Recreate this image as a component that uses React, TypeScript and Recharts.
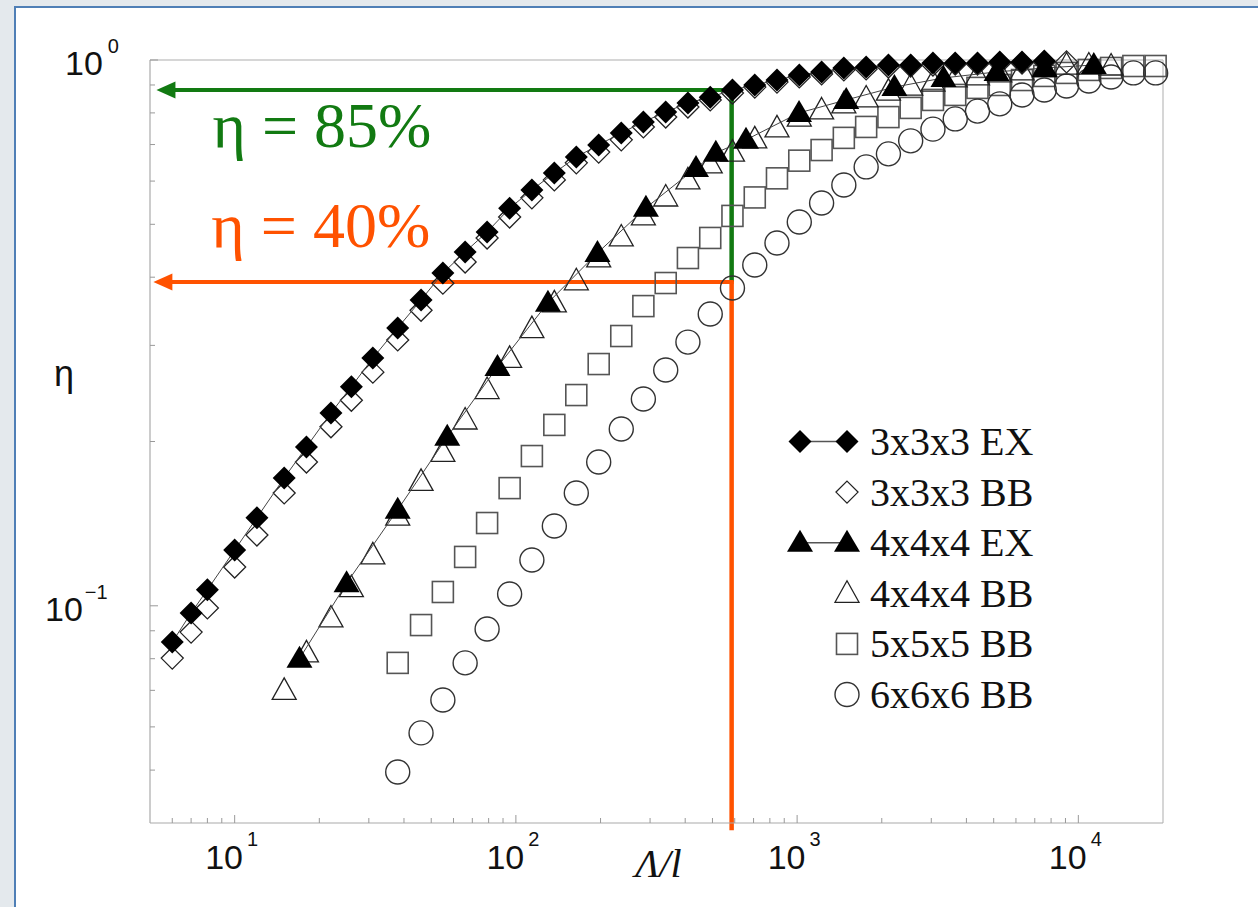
import React from 'react';
import { ScatterChart, Scatter, XAxis, YAxis, ReferenceLine, Legend } from 'recharts';

// ---------- data ----------
const seriesNames = ['3x3x3 EX', '3x3x3 BB', '4x4x4 EX', '4x4x4 BB', '5x5x5 BB', '6x6x6 BB'];

const lambda3EX = [6, 7, 8, 10, 12, 15, 18, 22, 26, 31, 38, 46, 55, 66, 79, 95, 114, 137, 164, 197, 237, 284, 341, 409, 491, 589, 707, 848, 1018, 1222, 1466, 1760, 2112, 2534, 3041, 3649, 4379, 5255, 6306, 7567];
const eta3EX = [0.0858, 0.097, 0.107, 0.1265, 0.145, 0.1715, 0.1954, 0.2256, 0.252, 0.2844, 0.323, 0.3634, 0.407, 0.445, 0.484, 0.535, 0.578, 0.621, 0.664, 0.699, 0.735, 0.77, 0.803, 0.834, 0.855, 0.881, 0.9, 0.919, 0.939, 0.951, 0.967, 0.971, 0.979, 0.979, 0.987, 0.987, 0.987, 0.992, 0.992, 0.996];

const lambda3BB = [6, 7, 8, 10, 12, 15, 18, 22, 26, 31, 38, 46, 55, 66, 79, 95, 114, 137, 164, 197, 237, 284, 341, 409, 491, 589, 707, 848, 1018, 1222, 1466, 1760, 2112, 2534, 3041, 3649, 4379, 5255, 6306, 7567, 9080];
const eta3BB = [0.0802, 0.0895, 0.0991, 0.1178, 0.1348, 0.161, 0.1834, 0.2128, 0.238, 0.268, 0.307, 0.348, 0.39, 0.4265, 0.472, 0.5157, 0.559, 0.603, 0.648, 0.678, 0.714, 0.754, 0.786, 0.82, 0.845, 0.87, 0.892, 0.911, 0.931, 0.943, 0.959, 0.963, 0.971, 0.975, 0.979, 0.983, 0.983, 0.987, 0.987, 0.992, 0.992];

const lambda4EX = [17, 25, 38, 57, 86, 130, 195, 290, 437, 514, 658, 1016, 1495, 2218, 3315, 5120, 7600, 11350];
const eta4EX = [0.08, 0.11, 0.15, 0.204, 0.274, 0.359, 0.443, 0.536, 0.634, 0.676, 0.714, 0.8, 0.845, 0.892, 0.927, 0.951, 0.967, 0.979];

const lambda4BB = [15, 18, 22, 26, 31, 38, 46, 55, 66, 79, 95, 114, 137, 164, 197, 237, 284, 341, 409, 491, 589, 707, 848, 1018, 1222, 1466, 1760, 2112, 2534, 3041, 3649, 4379, 5255, 6306, 7567, 9080, 10897, 13076];
const eta4BB = [0.07, 0.082, 0.095, 0.108, 0.124, 0.146, 0.169, 0.191, 0.219, 0.249, 0.284, 0.322, 0.359, 0.394, 0.434, 0.474, 0.518, 0.561, 0.603, 0.645, 0.678, 0.717, 0.751, 0.786, 0.81, 0.831, 0.852, 0.877, 0.896, 0.911, 0.927, 0.935, 0.947, 0.955, 0.967, 0.979, 0.979, 0.975];

const lambda5BB = [38, 46, 55, 66, 79, 95, 114, 137, 164, 197, 237, 284, 341, 409, 491, 589, 707, 848, 1018, 1222, 1466, 1760, 2112, 2534, 3041, 3649, 4379, 5255, 6306, 7567, 9080, 10897, 13076, 15692, 18830];
const eta5BB = [0.0786, 0.0922, 0.106, 0.1229, 0.1418, 0.1643, 0.1881, 0.2145, 0.2433, 0.2773, 0.3121, 0.3541, 0.3903, 0.4337, 0.472, 0.518, 0.56, 0.607, 0.654, 0.684, 0.72, 0.754, 0.786, 0.817, 0.845, 0.863, 0.889, 0.9, 0.919, 0.935, 0.947, 0.959, 0.967, 0.975, 0.975];

const lambda6BB = [38, 46, 55, 66, 79, 95, 114, 137, 164, 197, 237, 284, 341, 409, 491, 589, 707, 848, 1018, 1222, 1466, 1760, 2112, 2534, 3041, 3649, 4379, 5255, 6306, 7567, 9080, 10897, 13076, 15692, 18830];
const eta6BB = [0.0496, 0.0585, 0.0672, 0.0786, 0.0907, 0.1051, 0.1213, 0.14, 0.1609, 0.1834, 0.2108, 0.2392, 0.2704, 0.3042, 0.3424, 0.3823, 0.421, 0.462, 0.505, 0.547, 0.59, 0.637, 0.673, 0.711, 0.747, 0.78, 0.806, 0.831, 0.863, 0.881, 0.896, 0.915, 0.931, 0.947, 0.947];

const xTicks = [6, 7, 8, 9, 10, 20, 30, 40, 50, 60, 70, 80, 90, 100, 200, 300, 400, 500, 600, 700, 800, 900, 1000, 2000, 3000, 4000, 5000, 6000, 7000, 8000, 9000, 10000];
const yTicks = [0.05, 0.06, 0.07, 0.08, 0.09, 0.1, 0.2, 0.3, 0.4, 0.5, 0.6, 0.7, 0.8, 0.9, 1];

// annotation values
const markLambda = 585;
const eta85 = 0.881;
const eta40 = 0.392;
const arrowTipGreen = 5.27;
const arrowTipOrange = 5.14;
const bottomReach = 0.0388;

const GREEN = '#127a12';
const ORANGE = '#ff5200';

const toPts = (xs: number[], ys: number[]) => xs.map((x, i) => ({ x, y: ys[i] }));

// ---------- marker shapes ----------
const FilledDiamond = ({ cx, cy }: any) => (
  <polygon points={`${cx},${cy - 11.5} ${cx + 11.5},${cy} ${cx},${cy + 11.5} ${cx - 11.5},${cy}`} fill="#000" />
);
const OpenDiamond = ({ cx, cy }: any) => (
  <polygon points={`${cx},${cy - 11} ${cx + 11},${cy} ${cx},${cy + 11} ${cx - 11},${cy}`} fill="none" stroke="#222" strokeWidth={1.3} />
);
const FilledTriangle = ({ cx, cy }: any) => (
  <polygon points={`${cx},${cy - 13} ${cx + 13},${cy + 9} ${cx - 13},${cy + 9}`} fill="#000" />
);
const OpenTriangle = ({ cx, cy }: any) => (
  <polygon points={`${cx},${cy - 12.5} ${cx + 12},${cy + 9} ${cx - 12},${cy + 9}`} fill="none" stroke="#222" strokeWidth={1.3} />
);
const OpenSquare = ({ cx, cy }: any) => (
  <rect x={cx - 10.5} y={cy - 10.5} width={21} height={21} fill="none" stroke="#555" strokeWidth={1.6} />
);
const OpenCircle = ({ cx, cy }: any) => (
  <circle cx={cx} cy={cy} r={12} fill="none" stroke="#333" strokeWidth={1.4} />
);

const isMajor = (v: number) => Math.abs(Math.log10(v) - Math.round(Math.log10(v))) < 1e-9;
const SANS = '"Liberation Sans", Arial, Helvetica, sans-serif';
const SERIF = '"Liberation Serif", "Times New Roman", Times, serif';

const XTick = (props: any) => {
  const { x, y, payload } = props;
  const v = payload.value;
  const major = isMajor(v);
  const exp = Math.round(Math.log10(v));
  return (
    <g>
      <line x1={x} x2={x} y1={y} y2={y - (major ? 8 : 5)} stroke="#999" strokeWidth={1} />
      {major && (
        <text x={x - 3} y={y + 46} textAnchor="middle" style={{ fontFamily: SANS, fontSize: 34 }} fill="#111">
          10
          <tspan dx={4} dy={-23} style={{ fontSize: 20 }}>{exp}</tspan>
        </text>
      )}
    </g>
  );
};

const YTick = (props: any) => {
  const { x, y, payload } = props;
  const v = payload.value;
  const major = isMajor(v);
  const exp = Math.round(Math.log10(v));
  return (
    <g>
      <line x1={x} x2={x + (major ? 8 : 5)} y1={y} y2={y} stroke="#999" strokeWidth={1} />
      {major && (
        <text x={x - 85 - (exp < 0 ? 20 : 0)} y={y + 15} textAnchor="start" style={{ fontFamily: SANS, fontSize: 34 }} fill="#111">
          10
          <tspan dx={exp < 0 ? 2 : 5} dy={-22} style={{ fontSize: 20 }}>{exp < 0 ? '\u2212' + Math.abs(exp) : String(exp)}</tspan>
        </text>
      )}
    </g>
  );
};

const hArrow = (color: string, label: string, tdx: number, tdy: number) => (p: any) => {
  const { x1, y1, x2 } = p;
  const left = Math.min(x1, x2);
  const right = Math.max(x1, x2);
  return (
    <g>
      <line x1={left + 14} y1={y1} x2={right + 2} y2={y1} stroke={color} strokeWidth={4} />
      <polygon points={`${left},${y1} ${left + 19},${y1 - 8.5} ${left + 19},${y1 + 8.5}`} fill={color} />
      <text x={left + tdx} y={y1 + tdy} style={{ fontFamily: SERIF, fontSize: 64 }} fill={color}>{label}</text>
    </g>
  );
};

const vLine = (color: string) => (p: any) => {
  const { x1, y1, y2 } = p;
  return <line x1={x1} y1={Math.min(y1, y2) - 1} x2={x1} y2={Math.max(y1, y2)} stroke={color} strokeWidth={4.5} />;
};

const legendShapes = [
  { marker: FilledDiamond, joined: true },
  { marker: OpenDiamond, joined: false },
  { marker: FilledTriangle, joined: true },
  { marker: OpenTriangle, joined: false },
  { marker: OpenSquare, joined: false },
  { marker: OpenCircle, joined: false },
];

const LegendBox = () => (
  <svg width={290} height={320} style={{ display: 'block' }}>
    {seriesNames.map((name, i) => {
      const base = 45 + i * 50.6;
      const cy = base - 13.5;
      const M = legendShapes[i].marker;
      return (
        <g key={name}>
          {legendShapes[i].joined && <line x1={30} x2={77} y1={cy} y2={cy} stroke="#555" strokeWidth={1.5} />}
          {legendShapes[i].joined && <M cx={30} cy={cy} />}
          <M cx={77} cy={cy} />
          <text x={100} y={base} style={{ fontFamily: SERIF, fontSize: 40 }} fill="#111">{name}</text>
        </g>
      );
    })}
  </svg>
);

export default function App() {
  return (
    <div style={{ position: 'absolute', left: 0, top: 0, width: 1258, height: 907, background: '#e4e9ed', overflow: 'hidden' }}>
      <div
        style={{
          position: 'absolute',
          left: 14,
          top: 6,
          width: 1258,
          height: 907,
          background: '#fff',
          borderLeft: '2px solid #4f7fb6',
          borderTop: '2px solid #4f7fb6',
        }}
      />
      <div style={{ position: 'absolute', left: 0, top: 0 }}>
        <ScatterChart width={1258} height={907} margin={{ top: 60, right: 95, left: 90, bottom: 24 }}>
          <XAxis
            type="number"
            dataKey="x"
            scale="log"
            domain={[5, 20000]}
            ticks={xTicks}
            interval={0}
            tickSize={0}
            tickMargin={0}
            height={60}
            tickLine={false}
            axisLine={{ stroke: '#aaa', strokeWidth: 1.2 }}
            tick={<XTick />}
            label={{
              content: (p: any) => {
                const vb = p.viewBox || { x: 150, y: 823, width: 1013 };
                return (
                  <text x={vb.x + vb.width / 2 + 2} y={vb.y + 54} textAnchor="middle" style={{ fontFamily: SERIF, fontStyle: 'italic', fontSize: 40 }} fill="#111">
                    Λ/l
                  </text>
                );
              },
            }}
          />
          <YAxis
            type="number"
            dataKey="y"
            scale="log"
            domain={[0.04, 1]}
            ticks={yTicks}
            interval={0}
            tickSize={0}
            tickMargin={0}
            width={60}
            tickLine={false}
            axisLine={{ stroke: '#aaa', strokeWidth: 1.2 }}
            tick={<YTick />}
            label={{
              content: (p: any) => {
                const vb = p.viewBox || { x: 90, y: 60 };
                return (
                  <text x={vb.x - 26} y={vb.y + 326} textAnchor="middle" style={{ fontFamily: SANS, fontSize: 36 }} fill="#111">
                    η
                  </text>
                );
              },
            }}
          />
          <ReferenceLine y={1} stroke="#c8c8c8" strokeWidth={1.5} />
          <ReferenceLine x={20000} stroke="#c8c8c8" strokeWidth={1.5} />

          <Scatter name={seriesNames[4]} data={toPts(lambda5BB, eta5BB)} shape={OpenSquare} isAnimationActive={false} />
          <Scatter name={seriesNames[5]} data={toPts(lambda6BB, eta6BB)} shape={OpenCircle} isAnimationActive={false} />
          <Scatter name={seriesNames[3]} data={toPts(lambda4BB, eta4BB)} shape={OpenTriangle} isAnimationActive={false} />
          <Scatter name={seriesNames[1]} data={toPts(lambda3BB, eta3BB)} shape={OpenDiamond} isAnimationActive={false} />
          <Scatter
            name={seriesNames[2]}
            data={toPts(lambda4EX, eta4EX)}
            shape={FilledTriangle}
            line={{ stroke: '#444', strokeWidth: 1 }}
            lineType="joint"
            isAnimationActive={false}
          />
          <Scatter
            name={seriesNames[0]}
            data={toPts(lambda3EX, eta3EX)}
            shape={FilledDiamond}
            line={{ stroke: '#444', strokeWidth: 1 }}
            lineType="joint"
            isAnimationActive={false}
          />

          <ReferenceLine
            segment={[{ x: markLambda, y: eta85 }, { x: markLambda, y: eta40 }]}
            ifOverflow="visible"
            shape={vLine(GREEN)}
          />
          <ReferenceLine
            segment={[{ x: arrowTipGreen, y: eta85 }, { x: markLambda, y: eta85 }]}
            ifOverflow="visible"
            shape={hArrow(GREEN, 'η = 85%', 56, 57)}
          />
          <ReferenceLine
            segment={[{ x: markLambda, y: eta40 }, { x: markLambda, y: bottomReach }]}
            ifOverflow="visible"
            shape={vLine(ORANGE)}
          />
          <ReferenceLine
            segment={[{ x: arrowTipOrange, y: eta40 }, { x: markLambda, y: eta40 }]}
            ifOverflow="visible"
            shape={hArrow(ORANGE, 'η = 40%', 58, -35)}
          />

          <Legend
            layout="vertical"
            align="center"
            verticalAlign="middle"
            wrapperStyle={{ position: 'absolute', left: 770, top: 410, width: 290, height: 320 }}
            content={() => <LegendBox />}
          />
        </ScatterChart>
      </div>
    </div>
  );
}
